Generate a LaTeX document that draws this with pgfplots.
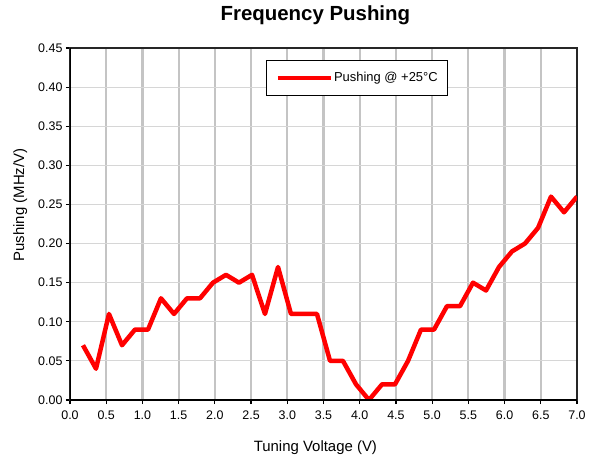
\documentclass[border=0pt]{standalone}
\usepackage{fontspec}
\setmainfont{Liberation Sans}
\usepackage{pgfplots}
\pgfplotsset{compat=1.18}

% pushing vs tuning voltage, 25 C
\pgfplotstableread{
v      p
0.179  0.07
0.359  0.04
0.538  0.11
0.718  0.07
0.897  0.09
1.077  0.09
1.256  0.13
1.436  0.11
1.615  0.13
1.795  0.13
1.974  0.15
2.154  0.16
2.333  0.15
2.513  0.16
2.692  0.11
2.872  0.17
3.051  0.11
3.231  0.11
3.410  0.11
3.590  0.05
3.769  0.05
3.949  0.02
4.128  0.00
4.308  0.02
4.487  0.02
4.667  0.05
4.846  0.09
5.026  0.09
5.205  0.12
5.385  0.12
5.564  0.15
5.744  0.14
5.923  0.17
6.103  0.19
6.282  0.20
6.462  0.22
6.641  0.26
6.821  0.24
7.000  0.26
}\pushdata

\definecolor{vgrid}{HTML}{C4C4C4}
\definecolor{hgrid}{HTML}{D6D6D6}

\begin{document}
\begin{tikzpicture}
\path[use as bounding box] (-70bp,-59bp) rectangle (522bp,400bp);
\begin{axis}[
    at={(0,0)}, anchor=south west,
    width=507bp, height=352bp, scale only axis,
    xmin=0, xmax=7, ymin=0, ymax=0.45,
    xtick={0,0.5,...,7.01},
    ytick={0,0.05,...,0.451},
    xticklabel style={yshift=-3bp, /pgf/number format/.cd, fixed, fixed zerofill, precision=1},
    yticklabel style={/pgf/number format/.cd, fixed, fixed zerofill, precision=2},
    /pgf/number format/assume math mode=true,
    tick label style={font=\fontsize{12.5}{14}\selectfont},
    tick align=outside, xtick pos=bottom, ytick pos=left,
    major tick length=4bp,
    tick style={black, line width=1.2bp},
    grid=major,
    x grid style={vgrid, line width=2.2bp},
    y grid style={hgrid, line width=1.2bp},
    axis line style={black!85, line width=1.6bp},
    title={\textbf{Frequency Pushing}},
    title style={font=\fontsize{20.5}{24}\selectfont, at={(axis description cs:0.484,1.0625)}, anchor=base},
    xlabel={Tuning Voltage (V)},
    xlabel style={font=\fontsize{15}{18}\selectfont, at={(axis description cs:0.484,-0.1477)}, anchor=base},
    ylabel={Pushing (MHz/V)},
    ylabel style={font=\fontsize{15}{18}\selectfont, at={(axis description cs:-0.0907,0.554)}, anchor=base},
    legend style={at={(axis description cs:0.387,0.966)}, anchor=north west,
        draw=black, line width=0.8bp, inner xsep=9bp, inner ysep=11bp,
        font=\fontsize{13}{15}\selectfont, nodes={inner sep=1bp}},
    legend image code/.code={\draw[#1, line width=4.5bp] (0bp,0bp) -- (53bp,0bp);},
]
\addplot[red, line width=4.5bp, line join=round, mark=none] table[x=v, y=p] {\pushdata};
\addlegendentry{Pushing @ +25°C}
\draw[black, line width=2.4bp] (rel axis cs:0,1) -- (rel axis cs:0,0) -- (rel axis cs:1,0);
\end{axis}
\end{tikzpicture}
\end{document}
